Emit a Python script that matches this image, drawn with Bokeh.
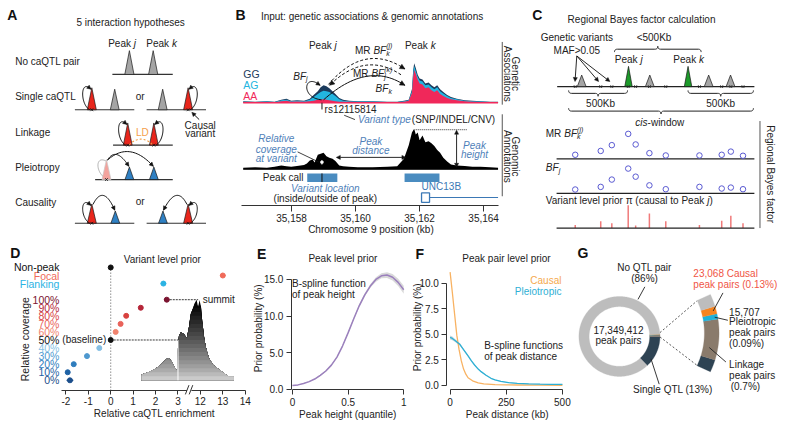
import numpy as np
from bokeh.plotting import figure
from bokeh.layouts import column, row
from bokeh.models import (Range1d, Arrow, NormalHead, LinearAxis,
                          FixedTicker, NumeralTickFormatter)
from bokeh.core.properties import value
from bokeh.embed import file_html
from bokeh.resources import INLINE

FONT = "Liberation Sans"
INK = "#222222"
NOTE = "#4f7fb9"
RED = "#e8261c"
GREY_T = "#a5a5a5"
BLUE_T = "#2f80c3"
PINK_T = "#f3a39d"
GREEN_T = "#1d9a2a"

# ====================== DATA ======================
hyp_labels = ["No caQTL pair", "Single caQTL", "Linkage", "Pleiotropy", "Causality"]

kb_ticks = [35158, 35160, 35162, 35164]
assoc_kb = [35156.49, 35156.86, 35157.23, 35157.47, 35157.68, 35157.84, 35157.99, 35158.17,
            35158.39, 35158.57, 35158.69, 35158.82, 35158.91, 35159.00, 35159.09, 35159.18,
            35159.28, 35159.37, 35159.49, 35159.61, 35159.80, 35160.07, 35160.53, 35160.99,
            35161.30, 35161.51, 35161.66, 35161.76, 35161.80, 35161.83, 35161.88, 35161.94,
            35162.00, 35162.09, 35162.18, 35162.28, 35162.37, 35162.46, 35162.55, 35162.64,
            35162.74, 35162.86, 35162.98, 35163.16, 35163.41, 35163.65, 35163.90, 35164.20, 35164.45]
gg_signal = [1.5, 1, 1.5, 1, 3, 4, 2, 2.5, 2, 4, 8, 12, 16, 18, 17, 15, 12, 9, 5, 3, 2, 1.5, 1.5, 1, 1,
             2, 3, 14, 34, 41, 36, 29, 25, 24, 20, 21, 18, 16, 18, 14, 11, 8, 6, 4, 2.5, 2, 1.5, 1, 1]
ag_signal = [1, 0.8, 1.2, 0.8, 2.5, 3, 1.5, 2, 1.5, 3, 6, 9, 11, 12.5, 12, 11, 9, 7, 3.5, 2, 1.5, 1.2,
             1.2, 0.8, 0.8, 1.5, 2.5, 12, 31, 38, 33, 27, 23, 22, 18, 19, 16, 14, 16, 12, 9.5, 7, 5,
             3.5, 2, 1.5, 1.2, 0.8, 0.8]
aa_signal = [0.6, 0.5, 0.8, 0.5, 1.5, 2, 1, 1.2, 1, 1.5, 2, 3, 3, 3.5, 3, 2.5, 2, 1.5, 1, 1, 1, 0.8,
             0.8, 0.6, 0.6, 1, 2, 10, 27, 34, 30, 24, 20, 19, 15, 16, 13, 11, 13, 9, 7, 5, 3.5, 2.5,
             1.5, 1, 0.8, 0.6, 0.6]
cov_kb = [35156.49, 35156.86, 35157.23, 35157.47, 35157.68, 35157.84, 35157.99, 35158.17, 35158.39,
          35158.48, 35158.57, 35158.66, 35158.72, 35158.82, 35158.91, 35159.00, 35159.09, 35159.18,
          35159.28, 35159.37, 35159.49, 35159.61, 35159.80, 35160.07, 35160.53, 35160.99, 35161.30,
          35161.51, 35161.66, 35161.76, 35161.83, 35161.88, 35161.94, 35162.00, 35162.09, 35162.18,
          35162.28, 35162.37, 35162.46, 35162.55, 35162.64, 35162.74, 35162.86, 35162.98, 35163.16,
          35163.41, 35163.65, 35163.90, 35164.20, 35164.45]
cov_signal = [1.5, 2, 1.5, 2.5, 4, 3, 2.5, 3.5, 4.5, 6, 9, 10, 7, 15, 16, 17, 13.5, 12, 11, 8.5, 4, 3,
              2.5, 2, 2, 2.5, 3, 11, 25, 38, 42, 36, 38, 30, 35, 28, 29, 27, 24, 20, 17, 12, 8, 5, 4,
              3.5, 2.5, 2.5, 2, 1.5]
peak_call_start = [35158.49, 35161.53]
peak_call_end = [35159.43, 35162.62]
variant_kb = 35158.95
variant_id = "rs12115814"
gene_name = "UNC13B"
gene_exon = [35162.06, 35162.31]
gene_end = 35164.45

variant_pos = [586.7, 612.7, 624.0, 640.7, 648.3, 662.3, 679.0, 713.3, 736.0, 745.3, 757.7]
mr_bf = [4.3, 8.3, 14.3, 26.0, 15.0, 6.0, 3.6, 3.6, 4.3, 7.6, 3.3]
bf_j = [4.0, 6.7, 14.3, 25.7, 17.3, 8.3, 4.3, 6.7, 5.0, 6.0, 4.3]
prior_pi = [3.3, 7.0, 5.0, 23.7, 2.7, 15.0, 7.0, 3.3, 7.7, 12.7, 5.0]
other_peaks = [593.3, 662.7, 722.7, 745.0]
pair_peaks = [641.0, 701.7]

cov_labels = ["0%", "10%", "20%", "30%", "40%", "50%", "60%", "70%", "80%", "90%", "100%"]
cov_enrich = [-1.82, -1.92, -1.65, -1.06, -0.51, 0.0, 0.22, 0.44, 0.69, 1.34, 2.50]
cov_err = [0.15, 0.07, 0.06, 0.06, 0.06, 0.02, 0.05, 0.05, 0.05, 0.06, 0.12]
cov_colors = ["#1c4f8c", "#1f62a5", "#2f7dbd", "#4e98cf", "#86bfe4", "#111111",
              "#f1846f", "#e9625a", "#d8423f", "#b52538", "#7b1430"]
loc_labels = ["Flanking", "Focal", "Non-peak"]
loc_enrich = [2.35, 13.0, 0.0]
loc_err = [0.12, 0.12, 0.0]
loc_colors = ["#2bb3e3", "#f06b5a", "#111111"]
enrich_ticks = [-2, -1, 0, 1, 2, 3, 12, 13, 14]
summit_x = [1.381, 1.643, 1.906, 2.125, 2.300, 2.475, 2.606, 2.737, 2.868, 2.956, 3.0, 3.044,
            3.131, 3.262, 3.394, 3.481, 3.569, 3.656, 3.744, 3.831, 3.897, 3.963, 4.028, 4.094,
            4.181, 4.269, 4.400, 4.575, 4.794, 5.013, 5.276, 5.494]
summit_cov = [0.72, 0.96, 1.31, 1.67, 2.15, 2.63, 2.75, 2.27, 1.55, 1.19, 4.06, 5.50, 5.97, 5.73,
              5.26, 6.45, 8.24, 8.84, 9.56, 10.0, 9.08, 9.95, 9.08, 7.05, 5.02, 3.82, 2.63, 1.91,
              1.43, 0.96, 0.48, 0.48]

height_q = [0, 0.05, 0.1, 0.15, 0.2, 0.25, 0.3, 0.35, 0.4, 0.45, 0.5, 0.55, 0.6, 0.65, 0.7, 0.75,
            0.8, 0.85, 0.9, 0.95, 1.0]
height_prior = [0.5, 0.6, 0.8, 1.05, 1.4, 1.9, 2.5, 3.3, 4.4, 5.9, 7.7, 9.6, 11.4, 12.9, 14.1,
                15.0, 15.5, 15.6, 15.3, 14.6, 13.6]
height_ci = [0.05, 0.05, 0.05, 0.06, 0.07, 0.08, 0.09, 0.1, 0.12, 0.14, 0.16, 0.18, 0.2, 0.22, 0.25,
             0.3, 0.35, 0.4, 0.45, 0.5, 0.55]

dist_kb = [0, 10, 20, 30, 40, 50, 60, 70, 80, 100, 125, 150, 200, 250, 300, 400, 500]
causal_prior = [11.1, 9.1, 7.0, 4.9, 3.5, 2.4, 1.6, 1.1, 0.75, 0.45, 0.25, 0.15, 0.08, 0.05, 0.04,
                0.03, 0.02]
pleio_kb = [0, 10, 22, 44, 60, 80, 95, 109, 125, 138, 160, 182, 200, 226, 260, 299, 350, 400, 450, 500]
pleio_prior = [4.7, 4.6, 4.4, 4.0, 3.5, 2.9, 2.4, 2.0, 1.6, 1.35, 1.0, 0.7, 0.55, 0.4, 0.28, 0.2,
               0.15, 0.12, 0.1, 0.1]
pleio_ci = [0.2, 0.18, 0.15, 0.12, 0.1, 0.08, 0.07, 0.06, 0.05, 0.05, 0.04, 0.04, 0.04, 0.04, 0.04,
            0.04, 0.04, 0.04, 0.04, 0.04]

pair_types = ["Single QTL", "Linkage", "Pleiotropic", "Causal", "No QTL pair"]
pair_pct = [13.0, 0.7, 0.09, 0.13, 86.0]
pair_colors = ["#2e4353", "#8a7b6c", "#1fb1d9", "#f7841f", "#bdbdbd"]
total_pairs = "17,349,412"
causal_pairs = "23,068"
pleio_pairs = "15,707"

# ====================== HELPERS ======================
CW = {' ': 0.278, 'i': 0.222, 'j': 0.222, 'l': 0.222, 't': 0.278, 'f': 0.278, 'r': 0.333,
      'I': 0.278, '(': 0.333, ')': 0.333, '.': 0.278, ',': 0.278, '-': 0.333, '/': 0.278,
      'm': 0.833, 'w': 0.722, 'M': 0.833, 'W': 0.944, 'k': 0.5, 's': 0.5, 'c': 0.5, 'v': 0.5,
      'x': 0.5, 'y': 0.5, 'z': 0.5, 'J': 0.5, 'F': 0.611, 'T': 0.611, 'L': 0.556, '%': 0.889,
      'π': 0.55, '<': 0.584, '>': 0.584, 'C': 0.722, 'D': 0.722, 'G': 0.778, 'H': 0.722,
      'N': 0.722, 'O': 0.778, 'Q': 0.778, 'R': 0.722, 'U': 0.722}


def W(s, size):
    tot = 0.0
    for ch in s:
        if ch in CW:
            tot += CW[ch]
        elif ch.isdigit():
            tot += 0.556
        elif ch.isupper():
            tot += 0.667
        else:
            tot += 0.556
    return tot * size / 0.975


def T(p, x, y, s, size=10, color=INK, align="left", baseline="middle", style="normal", angle=0.0,
      **kw):
    p.text(x=[x], y=[y], text=[s], text_font=value(FONT), text_font_size=f"{size:.1f}px",
           text_color=color, text_align=align, text_baseline=baseline, text_font_style=style,
           angle=angle, **kw)


def rich(p, x, y, segs, size=10, color=INK, align="left"):
    def seg_w(seg):
        t, it, kind = seg
        if kind == "subsup":
            return max(W(t[0], size * 0.7), W(t[1], size * 0.7))
        if kind in ("sub", "sup"):
            return W(t, size * 0.7)
        return W(t, size)
    total = sum(seg_w(s) for s in segs)
    cx = x - total / 2 if align == "center" else (x - total if align == "right" else x)
    for seg in segs:
        t, it, kind = seg
        st = "italic" if it else "normal"
        if kind == "subsup":
            T(p, cx, y + 3, t[0], size * 0.7, color, style=st)
            T(p, cx, y - 4.5, t[1], size * 0.7, color, style=st)
        elif kind == "sub":
            T(p, cx, y + 3, t, size * 0.7, color, style=st)
        elif kind == "sup":
            T(p, cx, y - 4.5, t, size * 0.7, color, style=st)
        else:
            T(p, cx, y, t, size, color, style=st)
        cx += seg_w(seg)


def qbez(p0, c, p1, n=30):
    t = np.linspace(0, 1, n)[:, None]
    P = (1 - t) ** 2 * np.array(p0) + 2 * (1 - t) * t * np.array(c) + t ** 2 * np.array(p1)
    return list(P[:, 0]), list(P[:, 1])


def cbez(p0, c1, c2, p1, n=40):
    t = np.linspace(0, 1, n)[:, None]
    P = ((1 - t) ** 3 * np.array(p0) + 3 * (1 - t) ** 2 * t * np.array(c1)
         + 3 * (1 - t) * t ** 2 * np.array(c2) + t ** 3 * np.array(p1))
    return list(P[:, 0]), list(P[:, 1])


def head_arrow(p, x0, y0, x1, y1, color="#111111", size=5, body=True, width=1.0, both=False):
    end = NormalHead(size=size, fill_color=color, line_color=color, line_width=0.5)
    start = NormalHead(size=size, fill_color=color, line_color=color, line_width=0.5) if both else None
    p.add_layout(Arrow(end=end, start=start, x_start=x0, y_start=y0, x_end=x1, y_end=y1,
                       line_color=color, line_width=width, line_alpha=1.0 if body else 0.0))


def curve(p, xs, ys, color="#111111", width=1.0, dash="solid", head=True, size=5):
    p.line(xs, ys, line_color=color, line_width=width, line_dash=dash)
    if head:
        head_arrow(p, xs[-4], ys[-4], xs[-1], ys[-1], color, size, body=False)


def canvas(w, h, xr, yr):
    p = figure(width=w, height=h, x_range=Range1d(*xr), y_range=Range1d(*yr),
               output_backend="svg", toolbar_location=None, min_border=0,
               x_axis_location=None, y_axis_location=None,
               outline_line_color=None, background_fill_color="white",
               border_fill_color="white")
    p.grid.visible = False
    return p


def make_axis(ticks, loc, bounds, overrides=None, tick_out=4, standoff=2, **kw):
    ax = LinearAxis(ticker=FixedTicker(ticks=ticks), fixed_location=loc, **kw)
    ax.axis_line_color = "#333333"
    ax.axis_line_width = 1
    ax.major_tick_line_color = "#333333"
    ax.major_tick_out = tick_out
    ax.major_tick_in = 0
    ax.minor_tick_line_color = None
    ax.major_label_text_font = FONT
    ax.major_label_text_font_size = "10px"
    ax.major_label_text_color = INK
    ax.major_label_standoff = standoff
    ax.bounds = bounds
    if overrides:
        ax.major_label_overrides = overrides
    return ax


def tri(p, cxs, yb, yas, hw, fill, line="#1a1a1a", alpha=1.0):
    xs = [[c - hw, c, c + hw] for c in cxs]
    ys = [[yb, a, yb] for a in yas]
    p.patches(xs, ys, fill_color=fill, line_color=line, line_width=0.7, fill_alpha=alpha)


def loop(p, cx, yb, ya, side, color="#111111"):
    xs, ys = cbez((cx + side * 2, yb), (cx + side * 12, yb - 5), (cx + side * 12, ya - 10),
                  (cx + side * 0.8, ya + 1.5))
    curve(p, xs, ys, color, 1.0, size=4)


def brace(p, x0, x1, ya, d, depth=6, color="#222222"):
    xc = (x0 + x1) / 2
    h = depth / 2
    xa, ya1 = qbez((x0, ya), (x0, ya + h * d), (x0 + 3, ya + h * d), 10)
    xb, yb1 = qbez((xc - 3, ya + h * d), (xc, ya + h * d), (xc, ya + 2 * h * d), 10)
    xc2, yc2 = qbez((xc, ya + 2 * h * d), (xc, ya + h * d), (xc + 3, ya + h * d), 10)
    xd, yd = qbez((x1 - 3, ya + h * d), (x1, ya + h * d), (x1, ya), 10)
    p.line(xa + xb + xc2 + xd, ya1 + yb1 + yc2 + yd, line_color=color, line_width=1)


# ====================== PANEL A ======================
def panel_A():
    p = canvas(230, 243, (0, 235), (252, 0))
    T(p, 7, 15, "A", 14, "#111111", style="bold")
    T(p, 133, 23, "5 interaction hypotheses", 10, align="center")
    rich(p, 110, 45, [("Peak ", False, None), ("j", True, None)])
    rich(p, 149, 45, [("Peak ", False, None), ("k", True, None)])
    for lab, yy in zip(hyp_labels, [63, 100, 136.7, 173, 209.3]):
        T(p, 15, yy, lab, 10)
    p.segment(x0=[114.3, 76, 149.3, 115, 96.7, 76, 149.3], x1=[176, 136.7, 210, 176, 176, 136.7, 210],
              y0=[76.7, 113.3, 113.3, 150, 185.7, 231, 231], y1=[76.7, 113.3, 113.3, 150, 185.7, 231, 231],
              line_color="#333333", line_width=1.2)
    tri(p, [131.7, 156], 76.7, [52, 52], 4.7, GREY_T)
    tri(p, [116.7, 165.7], 113.3, [92, 92], 4.5, GREY_T)
    tri(p, [93.3, 191.7], 113.3, [90.5, 90.5], 4.6, RED)
    loop(p, 93.3, 113.3, 90.5, -1)
    loop(p, 191.7, 113.3, 90.5, 1)
    T(p, 142.7, 100, "or", 10, align="center")
    T(p, 204, 129.3, "Causal", 10, align="center")
    T(p, 204, 137.7, "variant", 10, align="center")
    head_arrow(p, 203, 123.5, 195.5, 116, size=4)
    tri(p, [130, 156.7], 150, [127, 127], 4.5, RED)
    loop(p, 130, 150, 127, -1)
    loop(p, 156.7, 150, 127, 1)
    xs, ys = qbez((131.5, 149.5), (143.5, 138), (155.5, 149.5))
    p.line(xs, ys, line_color="#f5a04a", line_width=1.1, line_dash="2 2")
    T(p, 145, 136.7, "LD", 10, "#f5a04a", align="center")
    xs, ys = cbez((110, 185.7), (97, 181), (96, 160), (107.8, 166.5))
    p.line(xs, ys, line_color="#b0b0b0", line_width=1.0)
    tri(p, [108.3], 185.7, [165], 4.6, PINK_T, line="#c8c8c8")
    tri(p, [131.7, 156.7], 185.7, [172.7, 172.7], 4.5, BLUE_T)
    xs, ys = qbez((109.3, 165.5), (118, 151), (131.2, 172.0))
    curve(p, xs, ys, size=4)
    xs, ys = qbez((109.3, 165.5), (132, 145), (156.2, 172.0))
    curve(p, xs, ys, size=4)
    tri(p, [117.3, 166], 231, [218.3, 218.3], 4.5, BLUE_T)
    tri(p, [93.3, 191.7], 231, [211, 211], 4.6, RED)
    loop(p, 93.3, 231, 211, -1)
    loop(p, 191.7, 231, 211, 1)
    xs, ys = qbez((94.5, 211.5), (105, 190), (116.8, 217.5))
    curve(p, xs, ys, size=4)
    xs, ys = qbez((190.5, 211.5), (180, 190), (166.5, 217.5))
    curve(p, xs, ys, size=4)
    T(p, 142.7, 208.3, "or", 10, align="center")
    p.scatter(x=[93.3, 191.7, 130, 156.7, 108.3, 93.3, 191.7],
              y=[113.3, 113.3, 150, 150, 185.7, 231, 231], marker="x", size=4,
              line_color="#111111", line_width=0.8)
    return p


# ====================== PANEL B ======================
def panel_B():
    p = canvas(294, 243, (235, 535), (252, 0))
    p.extra_x_ranges = {"kb": Range1d(35156.093, 35165.276)}
    ax = make_axis(kb_ticks, 212.7, (35156.45, 35164.45), tick_out=6, standoff=2,
                   x_range_name="kb", formatter=NumeralTickFormatter(format="0,0"))
    p.add_layout(ax, "below")
    T(p, 378.3, 237.5, "Chromosome 9 position (kb)", 10, align="center")

    T(p, 240, 15, "B", 14, "#111111", style="bold")
    T(p, 266, 16.7, "Input: genetic associations & genomic annotations", 10)
    T(p, 248, 76, "GG", 10.5, "#1b3a5c")
    T(p, 248, 87.3, "AG", 10.5, "#22b5e0")
    T(p, 248, 98.7, "AA", 10.5, "#f0285a")

    base_a = 106
    p.varea(x=assoc_kb, y1=[base_a] * len(assoc_kb), y2=[base_a - h for h in gg_signal],
            fill_color="#1b3a5c", x_range_name="kb")
    p.varea(x=assoc_kb, y1=[base_a] * len(assoc_kb), y2=[base_a - h for h in ag_signal],
            fill_color="#22b5e0", x_range_name="kb")
    p.varea(x=assoc_kb, y1=[base_a] * len(assoc_kb), y2=[base_a - h for h in aa_signal],
            fill_color="#f0285a", x_range_name="kb")
    p.line(x=[assoc_kb[0], assoc_kb[-1]], y=[base_a, base_a], line_color="#f0285a",
           line_width=1.5, x_range_name="kb")

    rich(p, 315, 46.7, [("Peak ", False, None), ("j", True, None)])
    rich(p, 413, 46.7, [("Peak ", False, None), ("k", True, None)])
    xs, ys = qbez((335, 87), (372, 43), (413, 71))
    curve(p, xs, ys, dash="3 2", size=5)
    xs, ys = qbez((409, 77), (372, 52), (336, 88))
    curve(p, xs, ys, dash="3 2", size=5)
    xs, ys = qbez((330, 103), (375, 62), (413, 88))
    curve(p, xs, ys, size=5)
    xs, ys = cbez((328, 103), (306, 101), (310, 74), (326.5, 88))
    curve(p, xs, ys, size=4)
    rich(p, 362, 51.5, [("MR ", False, None), ("BF", True, None), (("k", "(j)"), True, "subsup")])
    rich(p, 360, 76, [("MR ", False, None), ("BF", True, None), (("j", "(k)"), True, "subsup")])
    rich(p, 383, 91, [("BF", True, None), ("k", True, "sub")])
    rich(p, 299, 78.3, [("BF", True, None), ("j", True, "sub")])

    p.segment(x0=[variant_kb], x1=[variant_kb], y0=[base_a], y1=[113], line_color="#111111",
              line_width=1, x_range_name="kb")
    T(p, 331, 113.3, variant_id, 10)
    p.line([351, 362], [119, 123.5], line_color="#111111", line_width=0.8)
    T(p, 365, 123.3, "Variant type", 10, NOTE, style="italic")
    T(p, 420, 123.3, "(SNP/INDEL/CNV)", 10)

    p.segment(x0=[512.3, 512.3], x1=[512.3, 512.3], y0=[43, 118], y1=[108, 203],
              line_color="#555555", line_width=1)
    T(p, 525.5, 76, "Genetic", 10, align="center", angle=-np.pi / 2)
    T(p, 517.3, 76, "Associations", 10, align="center", angle=-np.pi / 2)
    T(p, 525.5, 161.7, "Genomic", 10, align="center", angle=-np.pi / 2)
    T(p, 517.3, 161.7, "Annotations", 10, align="center", angle=-np.pi / 2)

    base_c = 175
    p.varea(x=cov_kb, y1=[base_c] * len(cov_kb), y2=[base_c - h for h in cov_signal],
            fill_color="#000000", x_range_name="kb")
    p.line(x=[cov_kb[0], cov_kb[-1]], y=[base_c, base_c], line_color="#000000", line_width=1.2,
           x_range_name="kb")
    for yy, s in zip([142.7, 154, 164.3], ["Relative", "coverage", "at variant"]):
        T(p, 281.7, yy, s, 10, NOTE, align="center", style="italic")
    p.line([303.5, 325], [157, 167.5], line_color="#111111", line_width=0.8)
    head_arrow(p, 328.3, 170, 328.3, 165.5, color="white", size=3, both=True)
    T(p, 378.3, 146, "Peak", 10, NOTE, align="center", style="italic")
    T(p, 378.3, 156, "distance", 10, NOTE, align="center", style="italic")
    head_arrow(p, 343, 162.7, 414, 162.7, size=4, both=True, width=0.9)
    p.line([424, 476], [134, 134], line_color="#333333", line_width=1, line_dash="1 1")
    head_arrow(p, 465.7, 134.5, 465.7, 173, size=4, both=True, width=0.9)
    T(p, 484, 150, "Peak", 10, NOTE, align="center", style="italic")
    T(p, 484, 159.3, "height", 10, NOTE, align="center", style="italic")

    T(p, 268, 183.3, "Peak call", 10)
    p.quad(left=peak_call_start, right=peak_call_end, top=[179.3] * 2, bottom=[188.3] * 2,
           fill_color="#4a8cc0", line_color=None, x_range_name="kb")
    p.segment(x0=[variant_kb], x1=[variant_kb], y0=[179.3], y1=[188.3], line_color="#111111",
              line_width=1, x_range_name="kb")
    T(p, 331.7, 195, "Variant location", 10, NOTE, align="center", style="italic")
    T(p, 331.7, 205.7, "(inside/outside of peak)", 10, align="center")
    T(p, 430, 193.3, gene_name, 10, "#3b78b5")
    p.line(x=[gene_exon[1], gene_end], y=[204.3, 204.3], line_color="#3b78b5", line_width=1.2,
           x_range_name="kb")
    p.quad(left=[gene_exon[0]], right=[gene_exon[1]], top=[199.5], bottom=[209.3],
           fill_color="white", line_color="#3b78b5", line_width=1.3, x_range_name="kb")
    return p


# ====================== PANEL C ======================
def panel_C():
    p = canvas(260, 243, (535, 800), (252, 0))
    T(p, 543, 15, "C", 14, "#111111", style="bold")
    T(p, 654.3, 19.3, "Regional Bayes factor calculation", 10, align="center")
    T(p, 588.3, 38.3, "Genetic variants", 10, align="center")
    T(p, 588.3, 51.7, "MAF>0.05", 10, align="center")
    T(p, 667, 38.3, "<500Kb", 10, align="center")
    brace(p, 626.7, 715, 53.5, -1)
    rich(p, 627, 61.7, [("Peak ", False, None), ("j", True, None)])
    rich(p, 686.7, 61.7, [("Peak ", False, None), ("k", True, None)])
    track_y = 89.3
    p.line([568.3, 769.3], [track_y, track_y], line_color="#222222", line_width=1.2)
    tri(p, other_peaks, track_y, [77.3] * len(other_peaks), 4.5, GREY_T)
    tri(p, pair_peaks, track_y, [68.3] * len(pair_peaks), 3.8, GREEN_T)
    p.scatter(x=variant_pos, y=[track_y] * len(variant_pos), marker="x", size=4,
              line_color="#222222", line_width=0.8)
    for tx in [586.5, 610.5, 622]:
        head_arrow(p, 588.3, 57.5, tx, 84, size=4, width=0.9)
    brace(p, 580, 640, 93.3, 1)
    brace(p, 701.7, 768.3, 93.3, 1)
    T(p, 612.5, 106.7, "500Kb", 10, align="center")
    T(p, 735, 106.7, "500Kb", 10, align="center")
    brace(p, 580, 768.3, 111.7, 1)
    rich(p, 673, 126, [("cis", True, None), ("-window", False, None)], align="center")

    rich(p, 556.7, 138.3, [("MR ", False, None), ("BF", True, None), (("k", "(j)"), True, "subsup")])
    p.line([567.7, 769.3], [164.3, 164.3], line_color="#222222", line_width=1.2)
    p.scatter(x=variant_pos, y=[164.3 - v for v in mr_bf], marker="circle", size=5.5,
              fill_color=None, line_color="#5a5ad2", line_width=1)
    rich(p, 556.7, 173.3, [("BF", True, None), ("j", True, "sub")])
    p.line([567.7, 769.3], [200, 200], line_color="#222222", line_width=1.2)
    p.scatter(x=variant_pos, y=[200 - v for v in bf_j], marker="circle", size=5.5,
              fill_color=None, line_color="#5a5ad2", line_width=1)
    rich(p, 556.7, 207.5, [("Variant level prior π (causal to Peak ", False, None), ("j", True, None),
                           (")", False, None)])
    p.segment(x0=variant_pos, x1=variant_pos, y0=[236] * len(variant_pos),
              y1=[236 - v for v in prior_pi], line_color="#f07a7a", line_width=1.5)
    p.line([567.7, 769.3], [236, 236], line_color="#222222", line_width=1.2)
    p.segment(x0=[775], x1=[775], y0=[125], y1=[236], line_color="#555555", line_width=1)
    T(p, 786, 180, "Regional Bayes factor", 10, align="center", angle=-np.pi / 2)
    return p


# ====================== PANEL D ======================
def brk(v):
    return v if v <= 3.5 else v - 8


def panel_D():
    p = canvas(252, 184, (-4.918, 6.325), (-5.854, 16.97))
    ax = make_axis([brk(v) for v in enrich_ticks], -1.28, (-2.2, 6.0),
                   overrides={brk(v): str(v) for v in enrich_ticks}, tick_out=4, standoff=2)
    p.add_layout(ax, "below")
    T(p, 1.95, -4.06, "Relative caQTL enrichment", 10, align="center")

    # summit illustration, shaded by height (darkest drawn first, lighter layers on top)
    nb = 20
    for k in reversed(range(nb)):
        hi = (k + 1) * 0.5
        g = 0.84 - 0.84 * min(1.0, (k * 0.5 + 0.25) / 9.5) ** 0.8
        v = int(max(0.0, g) * 255)
        col = "#%02x%02x%02x" % (v, v, v)
        p.varea(x=summit_x, y1=[0] * len(summit_x), y2=[min(h, hi) for h in summit_cov],
                fill_color=col)
    p.segment(x0=[3.0], x1=[3.0], y0=[0], y1=[5.0], line_color="white", line_width=1)

    p.line([0, 0], [-1.28, 14], line_color="#444444", line_width=0.9, line_dash="1 2")
    p.line([0, 3.0], [5, 5], line_color="#222222", line_width=0.9, line_dash="2 1")
    p.line([cov_enrich[10], 3.9], [10, 10], line_color="#222222", line_width=0.9, line_dash="2 1")
    T(p, 4.1, 10, "summit", 10)
    T(p, -0.2, 5, "(baseline)", 10, align="right")

    ys = list(range(11))
    p.segment(x0=[e - s for e, s in zip(cov_enrich, cov_err)],
              x1=[e + s for e, s in zip(cov_enrich, cov_err)], y0=ys, y1=ys,
              line_color=cov_colors, line_width=1.2)
    p.scatter(x=cov_enrich, y=ys, size=5, fill_color=cov_colors, line_color=cov_colors)
    ly = [12, 13, 14]
    lx = [brk(v) for v in loc_enrich]
    p.segment(x0=[x - s for x, s in zip(lx, loc_err)], x1=[x + s for x, s in zip(lx, loc_err)],
              y0=ly, y1=ly, line_color=loc_colors, line_width=1.2)
    p.scatter(x=lx, y=ly, size=5, fill_color=loc_colors, line_color=loc_colors)

    for lab, yy, c in zip(cov_labels, ys, cov_colors):
        T(p, -2.29, yy, lab, 10.5, c, align="right")
    for lab, yy, c in zip(loc_labels, ly, loc_colors):
        T(p, -2.29, yy, lab, 10.5, c, align="right")
    T(p, -3.82, 5.1, "Relative coverage", 10.5, align="center", angle=np.pi / 2)
    T(p, 2.3, 15.02, "Variant level prior", 10, align="center")
    T(p, -4.48, 15.77, "D", 14, "#111111", style="bold")
    p.quad(left=[3.40], right=[3.60], bottom=[-1.5], top=[-1.06], fill_color="white",
           line_color=None, level="overlay")
    p.segment(x0=[3.33, 3.50], x1=[3.49, 3.66], y0=[-1.75, -1.75], y1=[-0.6, -0.6],
              line_color="#333333", line_width=1, level="overlay")
    return p


# ====================== PANEL E ======================
def panel_E():
    p = canvas(160, 184, (-0.359, 1.079), (-5.22, 19.91))
    ya = make_axis([0, 5, 10, 15], -0.009, (0, 15),
                   overrides={0: "0.0", 5: "5.0", 10: "10.0", 15: "15.0"}, tick_out=5, standoff=3)
    xa = make_axis([0, 0.5, 1], -0.09, (0, 1), overrides={0: "0", 0.5: "0.5", 1: "1"},
                   tick_out=5, standoff=3)
    p.add_layout(ya, "left")
    p.add_layout(xa, "below")
    p.varea(x=height_q, y1=[a - b for a, b in zip(height_prior, height_ci)],
            y2=[a + b for a, b in zip(height_prior, height_ci)], fill_color="#d9d9d9")
    p.line(height_q, height_prior, line_color="#9b80bd", line_width=1.5)
    T(p, 0.453, 17.8, "Peak level prior", 10, align="center")
    T(p, -0.004, 14.5, "B-spline function", 10)
    T(p, -0.004, 12.9, "of peak height", 10)
    T(p, -0.318, 18.5, "E", 14, "#111111", style="bold")
    T(p, -0.304, 8.33, "Prior probability (%)", 10, align="center", angle=np.pi / 2)
    T(p, 0.497, -3.38, "Peak height (quantile)", 10, align="center")
    return p


# ====================== PANEL F ======================
def panel_F():
    p = canvas(162, 184, (-167.4, 553.8), (-4.12, 13.9))
    ya = make_axis([0, 2.5, 5, 7.5, 10], -14.4, (0, 10),
                   overrides={0: "0.0", 2.5: "2.5", 5: "5.0", 7.5: "7.5", 10: "10.0"},
                   tick_out=5, standoff=3)
    xa = make_axis([0, 250, 500], -0.44, (0, 500), tick_out=5, standoff=3)
    p.add_layout(ya, "left")
    p.add_layout(xa, "below")
    p.varea(x=pleio_kb, y1=[a - b for a, b in zip(pleio_prior, pleio_ci)],
            y2=[a + b for a, b in zip(pleio_prior, pleio_ci)], fill_color="#c9d6dc")
    p.line(dist_kb, causal_prior, line_color="#f8b262", line_width=1.3)
    p.line(pleio_kb, pleio_prior, line_color="#2eb0d5", line_width=1.3)
    T(p, 251, 12.4, "Peak pair level prior", 10, align="center")
    T(p, 495.6, 10.3, "Causal", 10, "#f5a94d", align="right")
    T(p, 495.6, 9.2, "Pleiotropic", 10, "#2eb0d5", align="right")
    T(p, 151.6, 3.87, "B-spline functions", 10)
    T(p, 151.6, 2.83, "of peak distance", 10)
    T(p, -154.3, 12.89, "F", 14, "#111111", style="bold")
    T(p, -145.5, 5.69, "Prior probability (%)", 10, align="center", angle=np.pi / 2)
    T(p, 254, -2.8, "Peak distance (kb)", 10, align="center")
    return p


# ====================== PANEL G ======================
def sector(cx, cy, r0, r1, a0, a1, n=60):
    th = np.radians(np.linspace(a0, a1, n))
    xo = cx + r1 * np.cos(th)
    yo = cy - r1 * np.sin(th)
    xi = cx + r0 * np.cos(th[::-1])
    yi = cy - r0 * np.sin(th[::-1])
    return list(np.r_[xo, xi]), list(np.r_[yo, yi])


def panel_G():
    p = canvas(210, 184, (585, 800), (443, 252))
    T(p, 588, 262, "G", 14, "#111111", style="bold")
    tot = sum(pair_pct)
    a = -pair_pct[0] / tot * 360
    xs_l, ys_l = [], []
    for pct in pair_pct:
        span = pct / tot * 360
        xs, ys = sector(631, 348.5, 31, 41.5, a, a + span, max(4, int(span)))
        xs_l.append(xs)
        ys_l.append(ys)
        a += span
    p.patches(xs_l, ys_l, fill_color=pair_colors, line_color=pair_colors, line_width=0.3)
    spans = [8] + [v * 37 for v in pair_pct[1:4]] + [8]
    a = -sum(spans) / 2
    xs_l, ys_l = [], []
    for sp in spans:
        xs, ys = sector(638, 345, 80, 95, a, a + sp, 20)
        xs_l.append(xs)
        ys_l.append(ys)
        a += sp
    p.patches(xs_l, ys_l, fill_color=pair_colors, line_color=pair_colors, line_width=0.3)
    p.segment(x0=[672.5, 672.5], y0=[344.5, 349], x1=[710.5, 710.5], y1=[311.5, 378.5],
              line_color="#444444", line_width=0.9, line_dash="2 2")
    p.segment(x0=[650, 727, 728.5, 723, 663.3], y0=[310, 322, 328.5, 360, 371.7],
              x1=[657, 737, 742, 740, 671.7], y1=[297, 303.3, 331.7, 375, 398],
              line_color="#222222", line_width=0.9)
    T(p, 630, 341.7, total_pairs, 10, align="center")
    T(p, 630, 352.5, "peak pairs", 10, align="center")
    T(p, 656.7, 276.7, "No QTL pair", 10, align="center")
    T(p, 656.7, 288.3, "(86%)", 10, align="center")
    T(p, 706.7, 283.3, causal_pairs + " Causal", 10, "#f05545")
    T(p, 706.7, 294.3, "peak pairs (0.13%)", 10, "#f05545")
    T(p, 743.3, 322.7, pleio_pairs, 10)
    T(p, 743.3, 333.3, "Pleiotropic", 10)
    T(p, 743.3, 344.5, "peak pairs", 10)
    T(p, 743.3, 356, "(0.09%)", 10)
    T(p, 743.3, 377.7, "Linkage", 10)
    T(p, 743.3, 388.7, "peak pairs", 10)
    T(p, 760, 400, "(0.7%)", 10, align="center")
    T(p, 645, 404, "Single QTL (13%)", 10)
    return p


top = row(panel_A(), panel_B(), panel_C(), spacing=0)
bottom = row(panel_D(), panel_E(), panel_F(), panel_G(), spacing=0)
layout = column(top, bottom, spacing=0)
open("out.html", "w").write(file_html(layout, INLINE))
